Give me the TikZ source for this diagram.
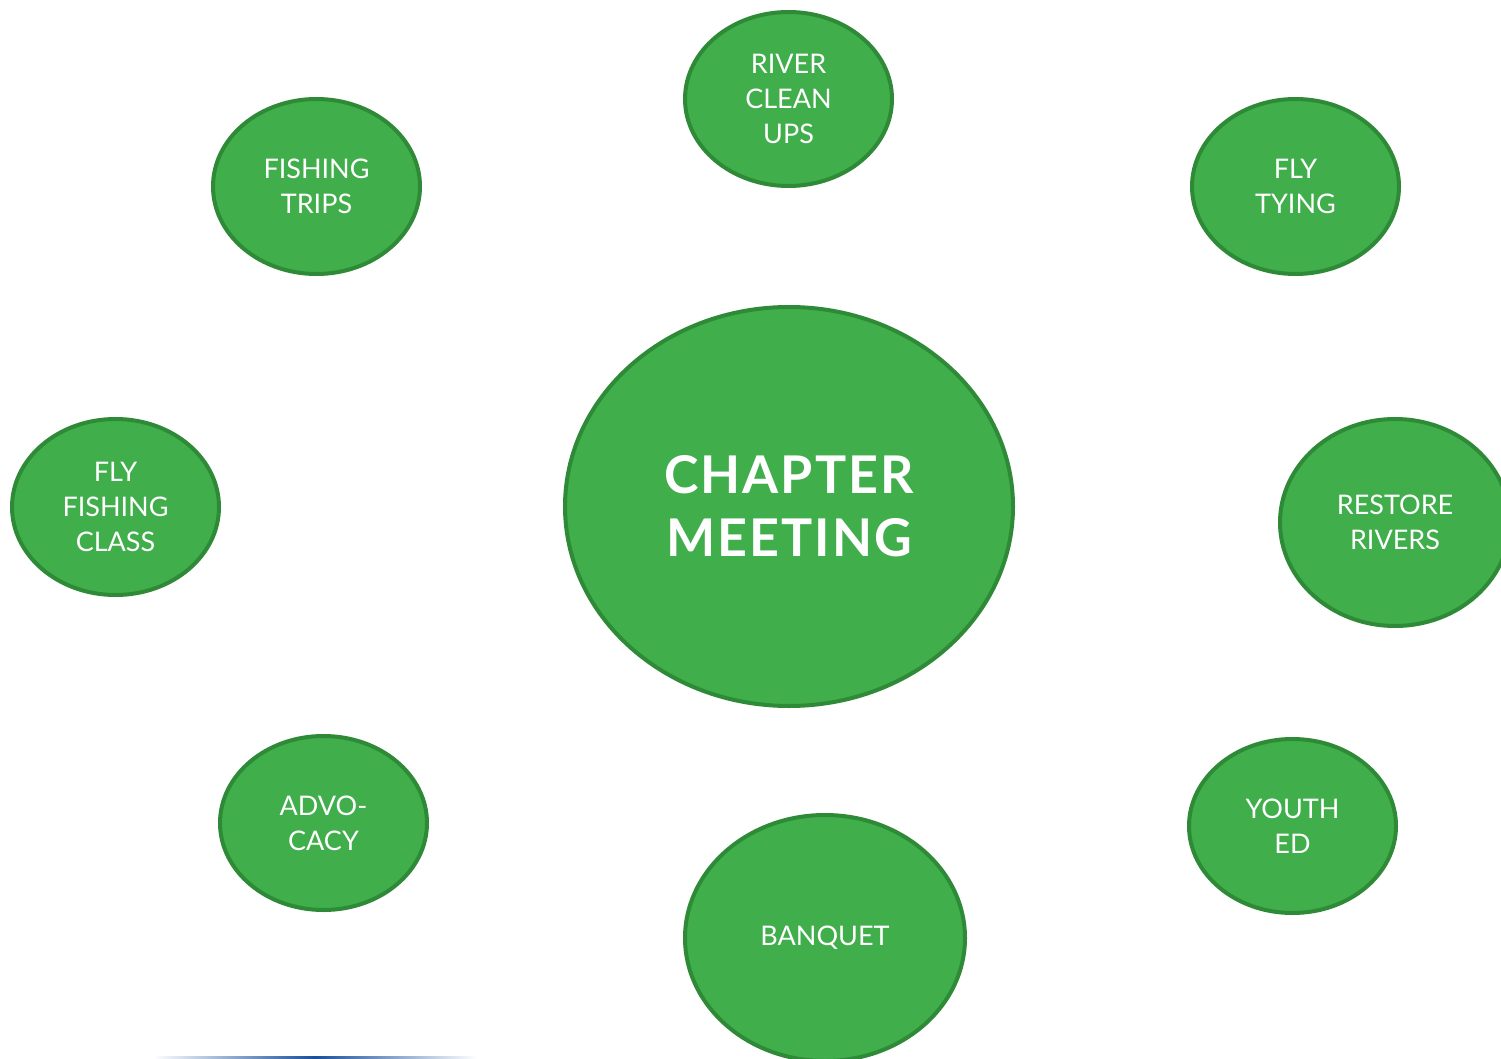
\documentclass[tikz,border=0pt]{standalone}
\usepackage{fontspec}
\setmainfont{Lato}
\usetikzlibrary{shapes.geometric}
\definecolor{gfill}{HTML}{40AE4B}
\definecolor{gline}{HTML}{2E8A37}
\definecolor{bline}{HTML}{1A4F9A}
\tikzset{
  bubble/.style={ellipse, draw=gline, fill=gfill, line width=4pt, inner sep=0pt,
    text=white, align=center, font=\fontsize{27}{35}\selectfont},
  smallbub/.style={bubble, minimum width=207pt, minimum height=175pt}
}
\begin{document}
\begin{tikzpicture}[x=1pt,y=-1pt]
\useasboundingbox (0,0) rectangle (1501,1059);
\clip (0,0) rectangle (1501,1059);
\fill[white] (0,0) rectangle (1501,1059);
\node[bubble, minimum width=448pt, minimum height=399pt,
  font=\bfseries\fontsize{52}{63}\selectfont\addfontfeature{LetterSpace=4}] (center) at (789,506.5) {CHAPTER\\MEETING};
\node[smallbub, minimum height=174pt] (river) at (788.5,99) {RIVER\\CLEAN\\UPS};
\node[smallbub] (trips) at (316.5,186.5) {FISHING\\TRIPS};
\node[smallbub] (tying) at (1295.5,186.5) {FLY\\TYING};
\node[smallbub, minimum height=176pt] (flyclass) at (115.5,507) {FLY\\FISHING\\CLASS};
\node[bubble, minimum width=230pt, minimum height=207pt] (restore) at (1395,522.5) {RESTORE\\RIVERS};
\node[smallbub, minimum height=174pt] (advocacy) at (323.5,823) {ADVO-\\CACY};
\node[smallbub, minimum height=174pt] (youth) at (1292.5,826) {YOUTH\\ED};
\node[bubble, minimum width=280pt, minimum height=246pt] (banquet) at (825,938) {BANQUET};
\shade[left color=white, right color=white, middle color=bline] (153,1056) rectangle (477,1059);
\end{tikzpicture}
\end{document}
